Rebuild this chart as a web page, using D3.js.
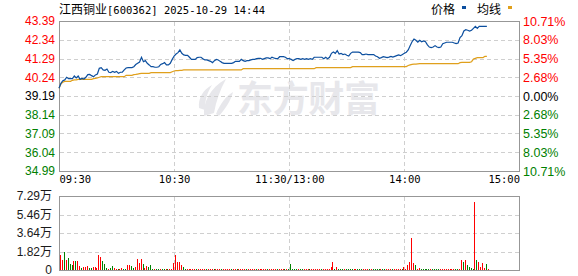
<!DOCTYPE html>
<html>
<head>
<meta charset="utf-8">
<script src="https://cdn.jsdelivr.net/npm/d3@7"></script>
<style>
body { margin: 0; background: #fff; }
svg { display: block; }
</style>
</head>
<body>
<script>
// chart data
const title = "江西铜业[600362] 2025-10-29 14:44"
const prevClose = 39.19
const priceTicks = [43.39, 42.34, 41.29, 40.24, 39.19, 38.14, 37.09, 36.04, 34.99]
const pctLabels = ["10.71%", "8.03%", "5.35%", "2.68%", "0.00%", "2.68%", "5.35%", "8.03%", "10.71%"]
const volTicks = [7.29, 5.46, 3.64, 1.82, 0]
const volLabels = ["7.29万", "5.46万", "3.64万", "1.82万", "0"]
const timeTicks = [0, 60, 120, 180, 240]
const timeLabels = ["09:30", "10:30", "11:30/13:00", "14:00", "15:00"]
const legendNames = ["价格", "均线"]

// price per minute
const price = [
  39.62, 39.90, 40.05, 40.09, 40.24, 40.16, 40.16, 40.16, 40.31, 40.20,
  40.31, 40.12, 40.18, 40.14, 40.24, 40.39, 40.40, 40.33, 40.27, 40.37,
  40.42, 40.74, 40.78, 40.65, 40.63, 40.70, 40.52, 40.50, 40.57, 40.52,
  40.57, 40.46, 40.52, 40.52, 40.65, 40.76, 40.78, 40.78, 40.78, 40.83,
  40.95, 41.02, 41.09, 41.36, 41.11, 41.17, 41.02, 40.93, 40.83, 40.83,
  40.80, 40.80, 40.83, 40.96, 41.00, 41.06, 40.93, 40.93, 41.02, 41.24,
  41.43, 41.54, 41.62, 41.77, 41.58, 41.49, 41.47, 41.47, 41.36, 41.24,
  41.24, 41.24, 41.34, 41.36, 41.36, 41.28, 41.21, 41.21, 41.17, 41.13,
  41.06, 41.17, 41.24, 41.21, 41.13, 41.06, 41.02, 41.02, 41.02, 41.02,
  41.02, 41.06, 41.13, 41.13, 41.13, 41.24, 41.17, 41.13, 41.17, 41.17,
  41.21, 41.24, 41.24, 41.28, 41.30, 41.30, 41.24, 41.28, 41.32, 41.32,
  41.28, 41.36, 41.32, 41.28, 41.28, 41.39, 41.39, 41.39, 41.36, 41.28,
  41.28, 41.24, 41.17, 41.24, 41.28, 41.28, 41.24, 41.28, 41.24, 41.28,
  41.24, 41.28, 41.24, 41.36, 41.36, 41.36, 41.36, 41.36, 41.28, 41.36,
  41.28, 41.36, 41.58, 41.65, 41.58, 41.73, 41.54, 41.58, 41.51, 41.54,
  41.47, 41.43, 41.58, 41.65, 41.65, 41.65, 41.65, 41.62, 41.51, 41.51,
  41.54, 41.51, 41.51, 41.51, 41.51, 41.43, 41.39, 41.30, 41.34, 41.39,
  41.37, 41.34, 41.37, 41.41, 41.37, 41.41, 41.45, 41.49, 41.45, 41.52,
  41.58, 41.64, 41.77, 42.01, 42.23, 42.38, 42.31, 42.20, 42.31, 42.23,
  42.27, 42.23, 42.05, 41.93, 41.90, 41.93, 42.01, 41.93, 41.90, 41.93,
  42.12, 42.16, 42.20, 42.20, 42.20, 42.20, 42.16, 42.12, 42.16, 42.46,
  42.57, 42.83, 42.90, 42.87, 42.83, 42.87, 42.98, 43.09, 42.98, 43.09,
  43.09, 43.09, 43.09, 43.09
]

// average price per minute
const avgPrice = [
  39.62, 39.86, 39.97, 40.01, 40.01, 40.01, 40.01, 40.07, 40.09, 40.09,
  40.12, 40.12, 40.12, 40.12, 40.12, 40.12, 40.12, 40.12, 40.16, 40.18,
  40.20, 40.24, 40.27, 40.27, 40.27, 40.27, 40.27, 40.27, 40.27, 40.27,
  40.27, 40.27, 40.27, 40.27, 40.27, 40.35, 40.35, 40.35, 40.35, 40.39,
  40.40, 40.42, 40.44, 40.46, 40.46, 40.46, 40.46, 40.46, 40.50, 40.50,
  40.50, 40.50, 40.50, 40.50, 40.50, 40.50, 40.50, 40.50, 40.50, 40.55,
  40.59, 40.61, 40.61, 40.63, 40.63, 40.65, 40.65, 40.65, 40.65, 40.65,
  40.65, 40.65, 40.65, 40.65, 40.65, 40.65, 40.65, 40.65, 40.65, 40.65,
  40.65, 40.65, 40.65, 40.65, 40.65, 40.65, 40.65, 40.65, 40.65, 40.65,
  40.65, 40.65, 40.65, 40.65, 40.65, 40.65, 40.72, 40.72, 40.72, 40.72,
  40.72, 40.72, 40.72, 40.72, 40.72, 40.72, 40.72, 40.72, 40.72, 40.72,
  40.72, 40.72, 40.72, 40.72, 40.72, 40.72, 40.72, 40.72, 40.72, 40.72,
  40.72, 40.72, 40.72, 40.72, 40.72, 40.72, 40.72, 40.72, 40.72, 40.72,
  40.72, 40.72, 40.72, 40.72, 40.78, 40.78, 40.78, 40.78, 40.78, 40.78,
  40.78, 40.78, 40.78, 40.78, 40.78, 40.78, 40.78, 40.78, 40.78, 40.78,
  40.78, 40.78, 40.78, 40.83, 40.83, 40.83, 40.83, 40.83, 40.83, 40.83,
  40.83, 40.83, 40.83, 40.83, 40.83, 40.83, 40.83, 40.83, 40.84, 40.84,
  40.84, 40.84, 40.84, 40.84, 40.84, 40.84, 40.84, 40.84, 40.84, 40.84,
  40.84, 40.84, 40.90, 40.93, 40.96, 40.97, 40.98, 40.99, 41.00, 41.00,
  41.00, 41.00, 41.00, 41.00, 41.00, 41.00, 41.00, 41.00, 41.00, 41.00,
  41.00, 41.00, 41.00, 41.00, 41.00, 41.00, 41.00, 41.00, 41.00, 41.06,
  41.07, 41.07, 41.07, 41.07, 41.07, 41.11, 41.26, 41.30, 41.34, 41.34,
  41.34, 41.34, 41.41, 41.41
]

// volume per minute, in 万
const volume = [
  1.48, 0.99, 1.77, 0.99, 1.18, 0.59, 0.49, 0.89, 0.89, 0.89,
  0.39, 0.20, 0.30, 0.30, 0.39, 0.20, 0.20, 0.30, 0.30, 0.20,
  1.48, 1.28, 0.89, 0.59, 0.20, 0.10, 0.20, 0.39, 0.20, 0.10,
  0.10, 0.10, 0.20, 0.10, 0.10, 0.49, 0.49, 0.39, 0.20, 0.30,
  1.08, 0.69, 1.08, 0.59, 0.20, 0.39, 0.30, 0.49, 0.10, 0.10,
  0.10, 0.10, 0.10, 0.10, 0.10, 0.10, 0.10, 0.10, 0.10, 0.69,
  1.48, 0.79, 0.79, 0.49, 0.30, 0.10, 0.10, 0.10, 0.10, 0.10,
  0.10, 0.10, 0.10, 0.10, 0.10, 0.10, 0.10, 0.10, 0.10, 0.10,
  0.10, 0.10, 0.10, 0.10, 0.10, 0.10, 0.10, 0.10, 0.10, 0.10,
  0.10, 0.10, 0.10, 0.10, 0.10, 0.10, 0.10, 0.10, 0.10, 0.10,
  0.10, 0.10, 0.10, 0.10, 0.10, 0.10, 0.10, 0.10, 0.10, 0.10,
  0.10, 0.10, 0.10, 0.10, 0.10, 0.10, 0.10, 0.10, 0.10, 0.10,
  0.59, 0.10, 0.10, 0.10, 0.10, 0.10, 0.10, 0.10, 0.10, 0.10,
  0.10, 0.10, 0.10, 0.10, 0.10, 0.10, 0.10, 0.10, 0.10, 0.10,
  0.10, 0.27, 0.79, 0.10, 0.30, 0.10, 0.10, 0.10, 0.10, 0.10,
  0.10, 0.10, 0.10, 0.10, 0.10, 0.10, 0.10, 0.10, 0.10, 0.10,
  0.10, 0.10, 0.10, 0.10, 0.10, 0.10, 0.10, 0.10, 0.10, 0.10,
  0.10, 0.10, 0.10, 0.10, 0.10, 0.10, 0.10, 0.10, 0.10, 0.30,
  0.10, 0.49, 0.79, 3.15, 0.69, 0.49, 0.10, 0.20, 0.10, 0.10,
  0.10, 0.10, 0.10, 0.10, 0.10, 0.10, 0.10, 0.10, 0.10, 0.10,
  0.10, 0.10, 0.10, 0.10, 0.10, 0.10, 0.10, 0.10, 0.10, 0.99,
  0.79, 0.99, 0.49, 0.30, 0.20, 0.10, 6.70, 0.99, 0.79, 0.30,
  0.69, 0.20, 0.59, 0.10
]

// 1 = up minute (red), 0 = down minute (green)
const volUp = [
  1, 1, 0, 1, 0, 0, 0, 1, 0, 1,
  1, 0, 1, 1, 1, 0, 0, 1, 1, 1,
  1, 1, 0, 0, 0, 1, 0, 0, 1, 1,
  0, 1, 1, 0, 0, 1, 1, 0, 0, 1,
  1, 1, 1, 0, 1, 1, 0, 0, 0, 1,
  0, 0, 1, 0, 0, 1, 0, 1, 1, 1,
  1, 1, 1, 1, 0, 0, 1, 1, 1, 1,
  1, 0, 1, 1, 1, 1, 0, 1, 1, 1,
  0, 1, 1, 1, 0, 1, 1, 1, 1, 0,
  1, 1, 0, 1, 1, 1, 1, 0, 1, 1,
  1, 1, 0, 1, 1, 1, 1, 1, 0, 1,
  1, 1, 1, 0, 1, 1, 1, 0, 1, 0,
  0, 0, 0, 0, 1, 0, 0, 1, 1, 1,
  0, 1, 1, 1, 1, 1, 0, 1, 1, 1,
  1, 1, 1, 0, 1, 0, 0, 0, 1, 0,
  0, 0, 0, 1, 1, 0, 0, 0, 1, 1,
  1, 0, 1, 0, 0, 0, 0, 1, 0, 0,
  1, 1, 1, 0, 1, 1, 1, 1, 0, 1,
  1, 1, 1, 1, 1, 0, 1, 1, 0, 0,
  0, 0, 0, 1, 0, 0, 0, 0, 1, 1,
  1, 1, 1, 1, 1, 1, 0, 0, 1, 1,
  0, 1, 0, 0, 0, 0, 1, 0, 1, 1,
  1, 1, 0, 1
]

// layout
const W = 578, H = 276
const left = 59, right = 519
const priceTop = 21, priceBottom = 171
const volTop = 196, volBottom = 270

const red = "#ff0000"
const green = "#008000"
const lineBlue = "#0c4f9f"
const avgGold = "#e0a01c"
const gridColor = "#cfcfcf"
const borderColor = "#979797"
const numFont = "Liberation Sans, Arial, sans-serif"
const cjkFont = "Noto Sans CJK SC, sans-serif"

const svg = d3.select("body").append("svg")
  .attr("width", W)
  .attr("height", H)
  .attr("xmlns", "http://www.w3.org/2000/svg")

const x = d3.scaleLinear().domain([0, 240]).range([left, right + 0.5])
const y = d3.scaleLinear().domain([34.99, 43.39]).range([priceBottom, priceTop])
const yv = d3.scaleLinear().domain([0, 7.29]).range([volBottom, volTop])

const crisp = v => Math.round(v) + 0.5

// watermark
const wm = svg.append("g").attr("fill", "#e7e7eb")
wm.append("path")
  .attr("d", "M204,116 C203,102 210,88 226,79 C220,90 216,101 214,113 Z")
wm.append("path")
  .attr("d", "M199,108 C198,98 203,90 212,85 C207,93 205,100 205,110 Z")
wm.append("path")
  .attr("d", "M216,114 C220,104 226,96 233,92 C231,100 226,108 219,116 Z")
wm.append("text")
  .attr("x", 237)
  .attr("y", 112)
  .attr("font-family", cjkFont)
  .attr("font-weight", "bold")
  .attr("font-size", 36)
  .attr("textLength", 143)
  .text("东方财富")

// grids
function drawGrid(top, bottom, yVals) {
  const g = svg.append("g")
    .attr("stroke", gridColor)
    .attr("stroke-width", 1)
    .attr("stroke-dasharray", "4,3")
  g.selectAll("line.h").data(yVals).join("line")
    .attr("class", "h")
    .attr("x1", left + 1).attr("x2", right)
    .attr("y1", d => crisp(d)).attr("y2", d => crisp(d))
  g.selectAll("line.v").data(timeTicks.slice(1, -1)).join("line")
    .attr("class", "v")
    .attr("x1", d => crisp(x(d))).attr("x2", d => crisp(x(d)))
    .attr("y1", top + 1).attr("y2", bottom)
}
drawGrid(priceTop, priceBottom, priceTicks.slice(1, -1).map(y))
drawGrid(volTop, volBottom, volTicks.slice(1, -1).map(yv))

// boxes
svg.append("rect")
  .attr("x", left + 0.5).attr("y", priceTop + 0.5)
  .attr("width", right - left).attr("height", priceBottom - priceTop)
  .attr("fill", "none").attr("stroke", borderColor)
svg.append("rect")
  .attr("x", left + 0.5).attr("y", volTop + 0.5)
  .attr("width", right - left).attr("height", volBottom - volTop)
  .attr("fill", "none").attr("stroke", borderColor)

// volume bars
svg.append("g").selectAll("rect").data(volume).join("rect")
  .attr("x", (d, i) => Math.round(x(i)) + 1)
  .attr("width", 1)
  .attr("y", d => Math.round(yv(d)))
  .attr("height", d => Math.max(1, volBottom - Math.round(yv(d))))
  .attr("fill", (d, i) => volUp[i] ? red : green)

// lines
const line = d3.line().x((d, i) => x(i)).y(d => y(d))
svg.append("path")
  .attr("d", line(avgPrice))
  .attr("fill", "none")
  .attr("stroke", avgGold)
  .attr("stroke-width", 1.2)
svg.append("path")
  .attr("d", line(price))
  .attr("fill", "none")
  .attr("stroke", lineBlue)
  .attr("stroke-width", 1.2)

const colorFor = v => v > prevClose + 1e-6 ? red : (v < prevClose - 1e-6 ? green : "#000")

function styleAxis(g, font, size) {
  g.attr("font-family", font).attr("font-size", size)
  g.select(".domain").remove()
  g.selectAll(".tick line").remove()
}

// price axis, left
const axL = svg.append("g")
  .attr("transform", `translate(${left},0)`)
  .call(d3.axisLeft(y).tickValues(priceTicks).tickSize(0).tickPadding(4).tickFormat(d3.format(".2f")))
styleAxis(axL, numFont, 12)
axL.selectAll(".tick text").attr("fill", d => colorFor(d))

// percent axis, right
const axR = svg.append("g")
  .attr("transform", `translate(${right + 1},0)`)
  .call(d3.axisRight(y).tickValues(priceTicks).tickSize(0).tickPadding(3).tickFormat((d, i) => pctLabels[i]))
styleAxis(axR, numFont, 12.5)
axR.selectAll(".tick text").attr("fill", d => colorFor(d))

// time axis
const axB = svg.append("g")
  .attr("transform", `translate(0,${priceBottom})`)
  .call(d3.axisBottom(x).tickValues(timeTicks).tickSize(0).tickPadding(5).tickFormat((d, i) => timeLabels[i]))
styleAxis(axB, "DejaVu Sans Mono, monospace", 10.5)
axB.selectAll(".tick text")
  .attr("fill", "#000")
  .attr("text-anchor", (d, i) => i === 0 ? "start" : (i === timeTicks.length - 1 ? "end" : "middle"))

// volume axis
const axV = svg.append("g")
  .attr("transform", `translate(${left},0)`)
  .call(d3.axisLeft(yv).tickValues(volTicks).tickSize(0).tickPadding(7).tickFormat((d, i) => volLabels[i]))
styleAxis(axV, numFont + ", Noto Sans CJK SC", 12)
axV.selectAll(".tick text").attr("fill", "#1a1a1a")

// title
const t = svg.append("text")
  .attr("x", left)
  .attr("y", 14)
  .attr("fill", "#000")
t.append("tspan")
  .attr("font-family", cjkFont)
  .attr("font-size", 12)
  .text(title.slice(0, 4))
t.append("tspan")
  .attr("font-family", "DejaVu Sans Mono, monospace")
  .attr("font-size", 10.5)
  .text(title.slice(4))

// legend
const legendX = [431, 477]
const legendColors = [lineBlue, avgGold]
const lg = svg.append("g")
legendNames.forEach((name, i) => {
  lg.append("text")
    .attr("x", legendX[i])
    .attr("y", 14)
    .attr("font-family", cjkFont)
    .attr("font-size", 12)
    .attr("fill", "#000")
    .text(name)
  lg.append("rect")
    .attr("x", legendX[i] + 31)
    .attr("y", 6)
    .attr("width", 4)
    .attr("height", 3)
    .attr("fill", legendColors[i])
})
</script>
</body>
</html>
